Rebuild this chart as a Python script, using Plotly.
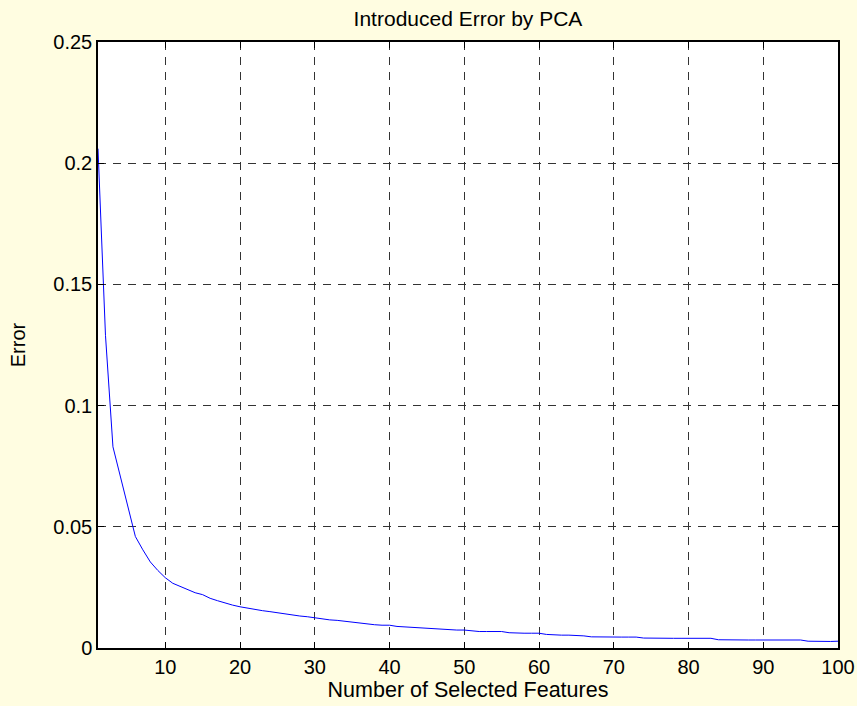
import plotly.graph_objects as go

features = list(range(1, 101))
error = [
    0.206, 0.129, 0.083, 0.0705, 0.058, 0.046, 0.0405, 0.0355, 0.032, 0.029,
    0.0267, 0.0255, 0.0240, 0.0228, 0.0220, 0.0205, 0.0195, 0.0185, 0.0177, 0.0170,
    0.0164, 0.0157, 0.0154, 0.0150, 0.0145, 0.0140, 0.0136, 0.0132, 0.0129, 0.0125,
    0.0118, 0.0116, 0.0114, 0.0110, 0.0106, 0.0103, 0.0099, 0.0096, 0.0094, 0.0094,
    0.0089, 0.0087, 0.0086, 0.0082, 0.0081, 0.0081, 0.0076, 0.0074, 0.0074, 0.0074,
    0.0070, 0.0068, 0.0068, 0.0068, 0.0068, 0.0063, 0.0061, 0.0061, 0.0061, 0.0061,
    0.0056, 0.0053, 0.0053, 0.0053, 0.0053, 0.0050, 0.0046, 0.0045, 0.0045, 0.0045,
    0.0045, 0.0045, 0.0045, 0.0041, 0.0040, 0.0040, 0.0040, 0.0040, 0.0040, 0.0040,
    0.0040, 0.0040, 0.0040, 0.0034, 0.0033, 0.0033, 0.0033, 0.0033, 0.0033, 0.0033,
    0.0033, 0.0033, 0.0033, 0.0033, 0.0033, 0.0028, 0.0027, 0.0027, 0.0027, 0.0028,
]
x_ticks = [10, 20, 30, 40, 50, 60, 70, 80, 90, 100]
y_ticks = [0, 0.05, 0.1, 0.15, 0.2, 0.25]
y_tick_labels = ["0", "0.05", "0.1", "0.15", "0.2", "0.25"]

FONT = "Liberation Sans, Arial, sans-serif"
BG = "#fffde1"

fig = go.Figure()
fig.add_trace(go.Scatter(
    x=features, y=error, mode="lines",
    line=dict(color="#0000ff", width=1),
    showlegend=False, hoverinfo="skip",
))

axis_common = dict(
    showline=True, linecolor="black", linewidth=1.5, mirror="allticks",
    ticks="inside", ticklen=6, tickcolor="black", tickwidth=1,
    showgrid=True, gridcolor="#333333", gridwidth=1, griddash="8px,7px",
    zeroline=False, automargin=False,
    tickfont=dict(family=FONT, size=20, color="black"),
)

fig.update_layout(
    width=857, height=706,
    margin=dict(l=98, r=19, t=42, b=58),
    paper_bgcolor=BG, plot_bgcolor="white",
    font=dict(family=FONT, color="black"),
    title=dict(text="Introduced Error by PCA", x=0.5, xref="paper",
               y=1, yref="paper", yanchor="bottom", pad=dict(b=16),
               font=dict(family=FONT, size=21, color="black")),
    xaxis=dict(range=[1, 100], tickvals=x_ticks,
               title=dict(text="Number of Selected Features", standoff=3,
                          font=dict(family=FONT, size=21.5)),
               **axis_common),
    yaxis=dict(range=[0, 0.25], tickvals=y_ticks, ticktext=y_tick_labels,
               title=dict(text="Error", standoff=22,
                          font=dict(family=FONT, size=20)),
               **axis_common),
)

fig.write_html("out.html")
